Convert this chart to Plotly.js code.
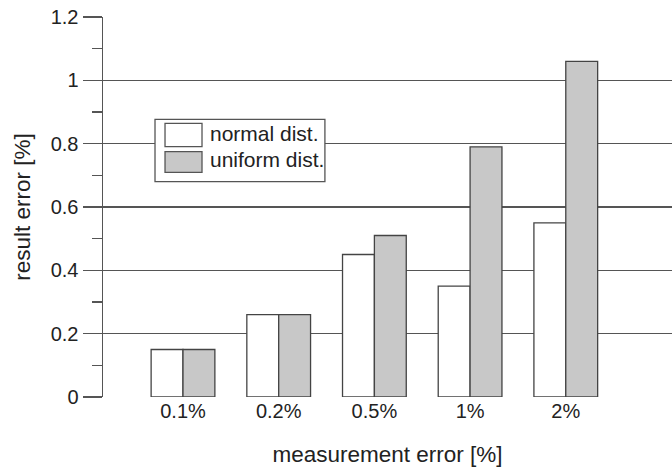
<!DOCTYPE html>
<html>
<head>
<meta charset="utf-8">
<script src="https://cdn.plot.ly/plotly-3.0.1.min.js"></script>
<style>html,body{margin:0;padding:0;background:#fff;}#chart{width:672px;height:467px;}</style>
</head>
<body>
<div id="chart"></div>
<script>
var categories = ["0.1%", "0.2%", "0.5%", "1%", "2%"];
var normalDist = [0.15, 0.26, 0.45, 0.35, 0.55];
var uniformDist = [0.15, 0.26, 0.51, 0.79, 1.06];
var seriesNames = ["normal dist.", "uniform dist."];
var yTicks = [0, 0.2, 0.4, 0.6, 0.8, 1, 1.2];
var yTickText = ["0", "0.2", "0.4", "0.6", "0.8", "1", "1.2"];

var FONT = "Liberation Sans, Arial, Helvetica, sans-serif";
var LINE = "#555";

var traces = [
  {type: "bar", x: categories, y: normalDist, name: seriesNames[0],
   marker: {color: "#ffffff", line: {color: "#444", width: 1.3}}},
  {type: "bar", x: categories, y: uniformDist, name: seriesNames[1],
   marker: {color: "#c8c8c8", line: {color: "#444", width: 1.3}}}
];

// legend drawn in paper coordinates
var lx0 = 0.0914, lx1 = 0.390, ly0 = 0.5666, ly1 = 0.7308;
var layout = {
  width: 672, height: 467,
  margin: {l: 103, r: 0, t: 17, b: 70},
  paper_bgcolor: "#fff", plot_bgcolor: "#fff",
  showlegend: false,
  barmode: "group", bargap: 0.334, bargroupgap: 0,
  font: {family: FONT, size: 20, color: "#222"},
  xaxis: {
    type: "category", range: [-0.836, 5.11],
    showgrid: false, showline: false, zeroline: false, ticks: "",
    tickfont: {size: 20}, fixedrange: true,
    title: {text: "measurement error [%]", font: {size: 22.5}, standoff: 26}
  },
  yaxis: {
    range: [0, 1.2], tickvals: yTicks, ticktext: yTickText,
    showgrid: true, gridcolor: LINE, gridwidth: 1.5,
    zeroline: false, showline: true, linecolor: LINE, linewidth: 1.5,
    ticks: "outside", ticklen: 19, tickcolor: LINE, tickwidth: 1.5,
    minor: {dtick: 0.1, ticks: "outside", ticklen: 10, tickcolor: LINE, tickwidth: 1.5, showgrid: false},
    tickfont: {size: 20},
    title: {text: "result error [%]", font: {size: 22.5}, standoff: 14}
  },
  shapes: [
    {type: "rect", xref: "paper", yref: "paper", x0: lx0, x1: lx1, y0: ly0, y1: ly1,
     line: {color: "#555", width: 1.3}, fillcolor: "#fff"},
    {type: "rect", xref: "paper", yref: "paper", x0: 0.109, x1: 0.174, y0: 0.6587, y1: 0.7203,
     line: {color: "#555", width: 1.3}, fillcolor: "#fff"},
    {type: "rect", xref: "paper", yref: "paper", x0: 0.109, x1: 0.174, y0: 0.5913, y1: 0.6455,
     line: {color: "#555", width: 1.3}, fillcolor: "#c8c8c8"}
  ],
  annotations: [
    {xref: "paper", yref: "paper", x: 0.1845, y: 0.6947, xanchor: "left", yanchor: "middle",
     text: seriesNames[0], showarrow: false, font: {size: 21, color: "#222"}},
    {xref: "paper", yref: "paper", x: 0.1845, y: 0.6237, xanchor: "left", yanchor: "middle",
     text: seriesNames[1], showarrow: false, font: {size: 21, color: "#222"}}
  ]
};

Plotly.newPlot("chart", traces, layout, {displayModeBar: false, staticPlot: true});
</script>
</body>
</html>
